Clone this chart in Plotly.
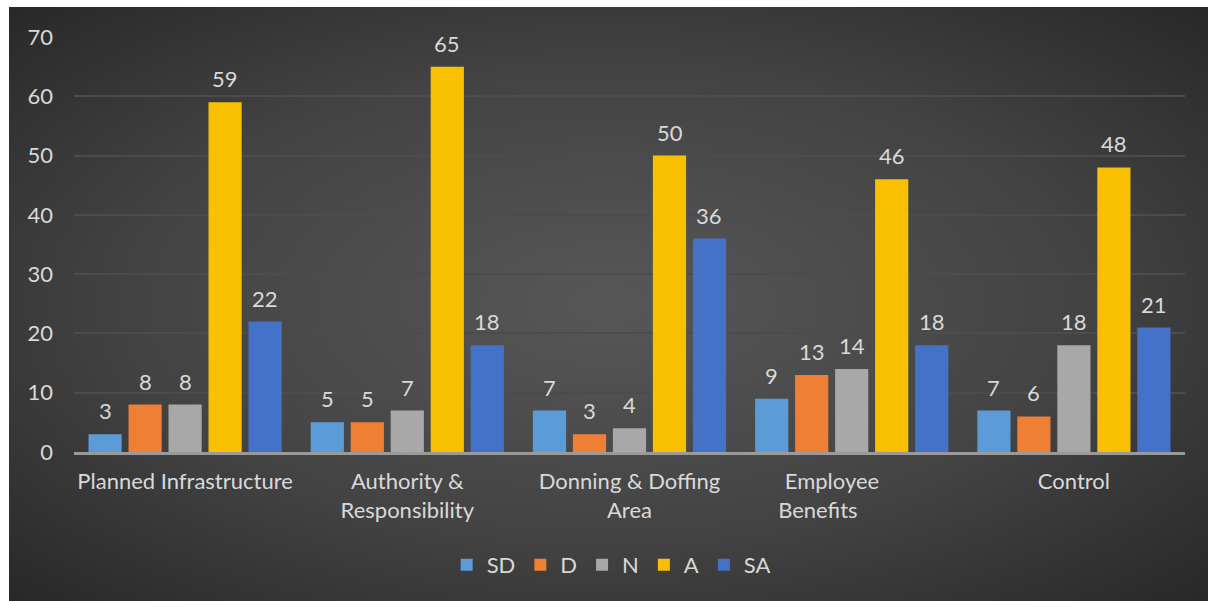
import base64
import plotly.graph_objects as go

NB = "\u00a0"
categories = [
    "Planned Infrastructure",
    "Authority &<br>Responsibility",
    "Donning & Doffing<br>Area",
    "Employee" + NB * 7 + "<br>Benefits" + NB * 12,
    "Control",
]
series_names = ["SD", "D", "N", "A", "SA"]
sd_values = [3, 5, 7, 9, 7]
d_values = [8, 5, 3, 13, 6]
n_values = [8, 7, 4, 14, 18]
a_values = [59, 65, 50, 46, 48]
sa_values = [22, 18, 36, 18, 21]
y_ticks = [0, 10, 20, 30, 40, 50, 60, 70]

series_values = [sd_values, d_values, n_values, a_values, sa_values]
colors = ["#5a9bd8", "#ef7f35", "#a8a8a8", "#f8c000", "#4472c8"]

FONT = "Lato, Carlito, Calibri, sans-serif"
TEXT = "#d9d9d9"
FS = 22

# plot-area geometry in pixels
W, H = 1208, 601
L, R, T, B = 74, 23, 37, 149
pw, ph = W - L - R, H - T - B
BARGAP, GROUPGAP = 0.1, 0.17

svg = '''<svg xmlns="http://www.w3.org/2000/svg" width="1199" height="594" viewBox="0 0 1199 594" preserveAspectRatio="none">
<defs><radialGradient id="g" cx="50%" cy="50%" r="72%" fx="50%" fy="50%">
<stop offset="0" stop-color="#575757"/><stop offset="0.55" stop-color="#434343"/><stop offset="1" stop-color="#272727"/>
</radialGradient></defs><rect width="1199" height="594" fill="url(#g)"/></svg>'''
src = "data:image/svg+xml;base64," + base64.b64encode(svg.encode()).decode()

fig = go.Figure()
annotations = []
n_series = len(series_names)
slot = (1 - BARGAP) / n_series
for j, (name, vals, col) in enumerate(zip(series_names, series_values, colors)):
    fig.add_trace(go.Bar(
        x=categories, y=vals, name=name,
        marker=dict(color=col, line=dict(width=0)),
    ))
    for i, v in enumerate(vals):
        annotations.append(dict(
            x=i + (j - (n_series - 1) / 2) * slot, y=v, xref="x", yref="y",
            text=str(v), showarrow=False, yanchor="bottom", yshift=8,
            font=dict(family=FONT, size=FS, color=TEXT),
        ))

fig.update_layout(
    width=W, height=H,
    margin=dict(l=L, r=R, t=T, b=B),
    paper_bgcolor="white",
    plot_bgcolor="rgba(0,0,0,0)",
    barmode="group", bargap=BARGAP, bargroupgap=GROUPGAP,
    font=dict(family=FONT, size=FS, color=TEXT),
    annotations=annotations,
    images=[dict(
        source=src, xref="paper", yref="paper",
        x=(9 - L) / pw, y=(H - B - 7) / ph,
        sizex=1199 / pw, sizey=594 / ph,
        sizing="stretch", xanchor="left", yanchor="top", layer="below",
    )],
    xaxis=dict(
        showgrid=False, showline=True, linecolor="#9a9a9a", linewidth=3,
        ticks="", ticklabelstandoff=8,
        tickfont=dict(family=FONT, size=FS, color=TEXT),
    ),
    yaxis=dict(
        range=[0, 70], tickvals=y_ticks, showgrid=True,
        gridcolor="#4c4c4c", gridwidth=1.5, zeroline=False,
        showline=False, ticks="", ticklabelstandoff=20,
        tickfont=dict(family=FONT, size=FS, color=TEXT),
    ),
    legend=dict(
        orientation="h", x=0.4835, xanchor="center", y=(H - B - 565) / ph, yanchor="middle",
        font=dict(family=FONT, size=FS, color=TEXT),
        bgcolor="rgba(0,0,0,0)", itemwidth=30, traceorder="normal",
    ),
)

fig.write_html("out.html")
